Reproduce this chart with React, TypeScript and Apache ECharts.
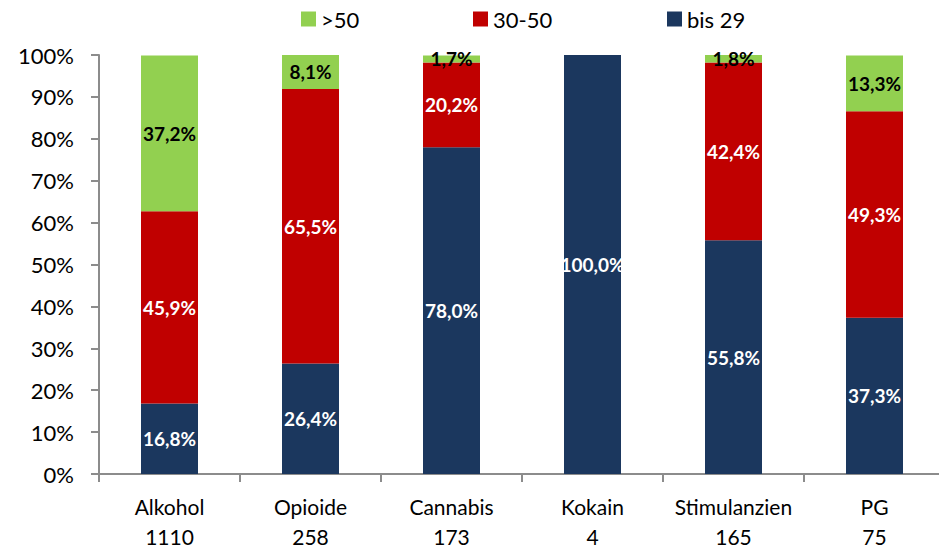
import React, { useEffect, useRef } from "react";
import * as echarts from "echarts";

const categories = ["Alkohol", "Opioide", "Cannabis", "Kokain", "Stimulanzien", "PG"];
const counts = ["1110", "258", "173", "4", "165", "75"];
const bis29 = [16.8, 26.4, 78.0, 100.0, 55.8, 37.3];
const mid3050 = [45.9, 65.5, 20.2, 0, 42.4, 49.3];
const over50 = [37.2, 8.1, 1.7, 0, 1.8, 13.3];
const yTicks = [0, 10, 20, 30, 40, 50, 60, 70, 80, 90, 100];

const FONT = "Lato, 'Open Sans', sans-serif";

export default function App() {
  const ref = useRef<HTMLDivElement>(null);
  useEffect(() => {
    if (!ref.current) return;
    const chart = echarts.init(ref.current, undefined, { renderer: "svg" });
    const fmt = (p: any) => (p.value > 0 ? p.value.toFixed(1).replace(".", ",") + "%" : "");
    const mkLabel = (color: string) => ({
      show: true,
      position: "inside" as const,
      formatter: fmt,
      color,
      fontWeight: "bold" as const,
      fontSize: 19,
      fontFamily: FONT,
    });
    const legendText = { fontSize: 22, color: "#000", fontFamily: FONT };
    const legendBase = {
      top: 3,
      itemWidth: 15,
      itemHeight: 15,
      itemGap: 6,
      icon: "rect",
      textStyle: legendText,
    };
    chart.setOption({
      animation: false,
      textStyle: { fontFamily: FONT },
      legend: [
        { ...legendBase, data: [">50"], left: 296 },
        { ...legendBase, data: ["30-50"], left: 468 },
        { ...legendBase, data: ["bis 29"], left: 662 },
      ],
      grid: { left: 99, right: 0, top: 55, bottom: 71, containLabel: false },
      xAxis: {
        type: "category",
        data: categories.map((c, i) => c + "\n" + counts[i]),
        axisLine: { lineStyle: { color: "#8c8c8c", width: 2 } },
        axisTick: { show: true, length: 8, alignWithLabel: false, lineStyle: { color: "#8c8c8c", width: 2 } },
        axisLabel: { fontSize: 21, color: "#000", lineHeight: 30, margin: 17, fontFamily: FONT, interval: 0 },
      },
      yAxis: {
        type: "value",
        min: 0,
        max: 100,
        interval: 10,
        splitLine: { show: false },
        axisLine: { show: true, lineStyle: { color: "#8c8c8c", width: 2 } },
        axisTick: { show: true, length: 8, lineStyle: { color: "#8c8c8c", width: 2 } },
        axisLabel: {
          fontSize: 22,
          color: "#000",
          margin: 25,
          fontFamily: FONT,
          formatter: (v: number) => (yTicks.includes(v) ? v + "%" : ""),
        },
      },
      series: [
        {
          name: "bis 29",
          type: "bar",
          stack: "s",
          barWidth: 57,
          data: bis29,
          itemStyle: { color: "#1B375E" },
          label: mkLabel("#fff"),
        },
        {
          name: "30-50",
          type: "bar",
          stack: "s",
          barWidth: 57,
          data: mid3050,
          itemStyle: { color: "#C00000" },
          label: mkLabel("#fff"),
        },
        {
          name: ">50",
          type: "bar",
          stack: "s",
          barWidth: 57,
          data: over50,
          itemStyle: { color: "#92D050" },
          label: mkLabel("#000"),
        },
      ],
    });
    return () => chart.dispose();
  }, []);
  return (
    <div style={{ position: "fixed", left: 0, top: 0, width: 939, height: 551, overflow: "hidden", background: "#fff" }}>
      <div ref={ref} style={{ width: 945, height: 551 }} />
    </div>
  );
}
